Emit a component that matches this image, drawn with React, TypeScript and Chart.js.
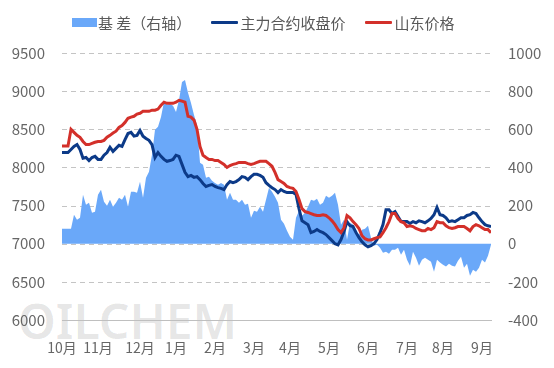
import { useEffect, useRef } from 'react';
import { Chart, registerables } from 'chart.js';

Chart.register(...registerables);

const monthLabels = ['10月', '11月', '12月', '1月', '2月', '3月', '4月', '5月', '6月', '7月', '8月', '9月'];
const monthTickIndex = [0, 12, 26, 38, 51, 64, 76, 89, 102, 115, 127, 140];

const shandongPrice = [
  8280, 8280, 8280, 8500, 8460, 8420, 8395, 8340, 8300, 8300,
  8315, 8330, 8340, 8340, 8355, 8395, 8420, 8450, 8475, 8525,
  8550, 8590, 8645, 8660, 8670, 8700, 8710, 8735, 8735, 8735,
  8750, 8750, 8765, 8815, 8855, 8840, 8840, 8840, 8855, 8880,
  8870, 8855, 8670, 8660, 8620, 8500, 8275, 8160, 8130, 8105,
  8105, 8090, 8090, 8065, 8040, 8000, 8025, 8040, 8050, 8065,
  8065, 8065, 8050, 8040, 8050, 8065, 8080, 8080, 8080, 8050,
  8015, 7935, 7840, 7815, 7790, 7750, 7735, 7725, 7685, 7580,
  7460, 7420, 7410, 7395, 7380, 7370, 7370, 7380, 7370, 7340,
  7300, 7250, 7185, 7145, 7210, 7370, 7340, 7290, 7250, 7200,
  7105, 7065, 7050, 7050, 7065, 7080, 7090, 7145, 7210, 7290,
  7395, 7395, 7330, 7290, 7275, 7225, 7235, 7225, 7200, 7185,
  7170, 7170, 7200, 7185, 7210, 7290, 7275, 7275, 7235, 7210,
  7200, 7210, 7225, 7225, 7225, 7200, 7170, 7225, 7250, 7235,
  7210, 7185, 7185, 7145,
];

const futuresClose = [
  8195, 8195, 8195, 8235, 8275, 8300, 8235, 8120, 8130, 8090,
  8130, 8145, 8105, 8105, 8160, 8195, 8265, 8210, 8250, 8290,
  8275, 8365, 8445, 8460, 8410, 8420, 8485, 8410, 8380, 8355,
  8300, 8130, 8195, 8145, 8105, 8080, 8090, 8105, 8160, 8145,
  8040, 7935, 7880, 7895, 7870, 7880, 7840, 7790, 7750, 7765,
  7775, 7750, 7735, 7725, 7710, 7775, 7815, 7800, 7815, 7840,
  7880, 7870, 7840, 7880, 7910, 7910, 7895, 7870, 7800, 7765,
  7735, 7710, 7670, 7710, 7685, 7670, 7670, 7670, 7645, 7460,
  7300, 7275, 7250, 7145, 7160, 7185, 7160, 7145, 7120, 7080,
  7040, 7000, 6985, 7055, 7160, 7290, 7235, 7225, 7145, 7080,
  7025, 6985, 6960, 6975, 7000, 7055, 7145, 7250, 7445, 7445,
  7395, 7420, 7355, 7290, 7290, 7290, 7265, 7290, 7275, 7300,
  7290, 7275, 7300, 7330, 7380, 7475, 7380, 7370, 7340, 7290,
  7300, 7290, 7315, 7340, 7340, 7370, 7380, 7410, 7395, 7340,
  7290, 7250, 7235, 7225,
];

const basis = [
  79, 79, 79, 79, 152, 126, 136, 257, 204, 215,
  162, 168, 257, 283, 220, 199, 230, 194, 215, 241,
  230, 257, 194, 272, 272, 267, 325, 241, 346, 377,
  466, 597, 613, 665, 744, 728, 733, 723, 691, 754,
  848, 859, 791, 738, 675, 623, 424, 414, 346, 351,
  330, 319, 309, 319, 309, 230, 267, 230, 230, 215,
  230, 204, 209, 136, 173, 168, 194, 168, 230, 293,
  272, 246, 215, 126, 105, 68, 37, 21, 136, 173,
  147, 162, 194, 230, 225, 236, 204, 215, 251, 241,
  251, 267, 204, 99, 126, 21, 110, 99, 73, 47,
  73, 79, 94, 31, -10, -5, -21, -47, -42, -52,
  -31, -31, -21, -58, -31, -84, -115, -42, -73, -115,
  -84, -73, -84, -94, -147, -84, -99, -110, -120, -105,
  -115, -120, -89, -68, -126, -105, -168, -136, -147, -126,
  -84, -99, -63, -5,
];

const AREA = '#6aa8f9';
const NAVY = '#0c3a88';
const RED = '#d3302a';
const FONT = "'Noto Sans CJK SC', 'Noto Sans', sans-serif";
const TXT = '#666666';

const pts = (arr: number[]) => arr.map((v, i) => ({ x: i, y: v }));

// dashed horizontal grid lines at the left axis ticks
const dashedGrid = {
  id: 'dashedGrid',
  beforeDatasetsDraw(chart: any) {
    const { ctx, chartArea, scales } = chart;
    const ys = scales.y;
    ctx.save();
    ctx.strokeStyle = '#c4c4c4';
    ctx.lineWidth = 1;
    ctx.setLineDash([5, 4]);
    ys.ticks.forEach((t: any) => {
      const y = Math.round(ys.getPixelForValue(t.value)) + 0.5;
      ctx.beginPath();
      ctx.moveTo(chartArea.left, y);
      ctx.lineTo(chartArea.right, y);
      ctx.stroke();
    });
    ctx.restore();
  },
};

export default function App() {
  const ref = useRef<HTMLCanvasElement>(null);

  useEffect(() => {
    Chart.defaults.font.family = FONT;
    const chart = new Chart(ref.current as HTMLCanvasElement, {
      type: 'line',
      plugins: [dashedGrid],
      data: {
        datasets: [
          {
            label: '山东价格',
            data: pts(shandongPrice),
            borderColor: RED,
            backgroundColor: RED,
            borderWidth: 3,
            pointRadius: 0,
            tension: 0,
            fill: false,
            yAxisID: 'y',
            order: 0,
          },
          {
            label: '主力合约收盘价',
            data: pts(futuresClose),
            borderColor: NAVY,
            backgroundColor: NAVY,
            borderWidth: 3,
            pointRadius: 0,
            tension: 0,
            fill: false,
            yAxisID: 'y',
            order: 1,
          },
          {
            label: '基 差（右轴）',
            data: pts(basis),
            borderColor: AREA,
            backgroundColor: AREA,
            borderWidth: 0,
            pointRadius: 0,
            tension: 0,
            fill: 'origin',
            yAxisID: 'y1',
            order: 2,
          },
        ],
      },
      options: {
        animation: false,
        responsive: false,
        layout: { padding: { top: 45, left: 0, right: 0, bottom: 0 } },
        plugins: { legend: { display: false }, tooltip: { enabled: false } },
        scales: {
          x: {
            type: 'linear',
            min: 0,
            max: shandongPrice.length - 1,
            grid: { display: false, drawTicks: false },
            border: { display: true, color: '#bfbfbf', width: 1, z: 1 },
            afterBuildTicks: (s: any) => {
              s.ticks = monthTickIndex.map((v) => ({ value: v }));
            },
            afterFit: (s: any) => {
              s.height = 40;
            },
            ticks: {
              autoSkip: false,
              maxRotation: 0,
              padding: 19,
              color: TXT,
              font: { size: 14, family: FONT },
              callback: (v: any) => {
                const k = monthTickIndex.indexOf(Number(v));
                return k >= 0 ? monthLabels[k] : '';
              },
            },
          },
          y: {
            position: 'left',
            min: 6000,
            max: 9500,
            afterFit: (s: any) => {
              s.width = 54;
            },
            grid: { display: false, drawTicks: false },
            border: { display: false },
            ticks: {
              stepSize: 500,
              padding: 17,
              color: TXT,
              font: { size: 15, family: FONT },
              callback: (v: any) => String(v),
            },
          },
          y1: {
            position: 'right',
            min: -400,
            max: 1000,
            afterFit: (s: any) => {
              s.width = 55;
            },
            grid: { display: false, drawTicks: false },
            border: { display: false },
            ticks: {
              stepSize: 200,
              padding: 17,
              color: TXT,
              font: { size: 15, family: FONT },
              callback: (v: any) => String(v),
            },
          },
        },
      },
    });
    return () => chart.destroy();
  }, []);

  const item = { display: 'flex', alignItems: 'center', marginRight: 20 } as const;

  return (
    <div style={{ position: 'relative', width: 538, height: 352 }}>
      <div
        style={{
          position: 'absolute',
          left: 10,
          top: 283,
          font: `600 48px 'Noto Sans', sans-serif`,
          color: 'rgba(0,0,0,0.11)',
          zIndex: 0,
          lineHeight: '60px',
          whiteSpace: 'nowrap',
        }}
      >
        OILCHEM
      </div>
      <canvas ref={ref} width={538} height={352} style={{ display: 'block', position: 'relative', zIndex: 1 }} />
      <div
        style={{
          position: 'absolute',
          left: 64,
          top: 0,
          height: 28,
          display: 'flex',
          alignItems: 'center',
          font: `15px ${FONT}`,
          color: '#595959',
          whiteSpace: 'nowrap',
          zIndex: 2,
        }}
      >
        <div style={item}>
          <span style={{ width: 25, height: 9, background: AREA, display: 'inline-block', marginRight: 1 }} />
          <span>基 差（右轴）</span>
        </div>
        <div style={item}>
          <span style={{ width: 27, height: 3, background: NAVY, display: 'inline-block', marginRight: 2, borderRadius: 1 }} />
          <span>主力合约收盘价</span>
        </div>
        <div style={item}>
          <span style={{ width: 27, height: 3, background: RED, display: 'inline-block', marginRight: 2, borderRadius: 1 }} />
          <span>山东价格</span>
        </div>
      </div>
    </div>
  );
}
